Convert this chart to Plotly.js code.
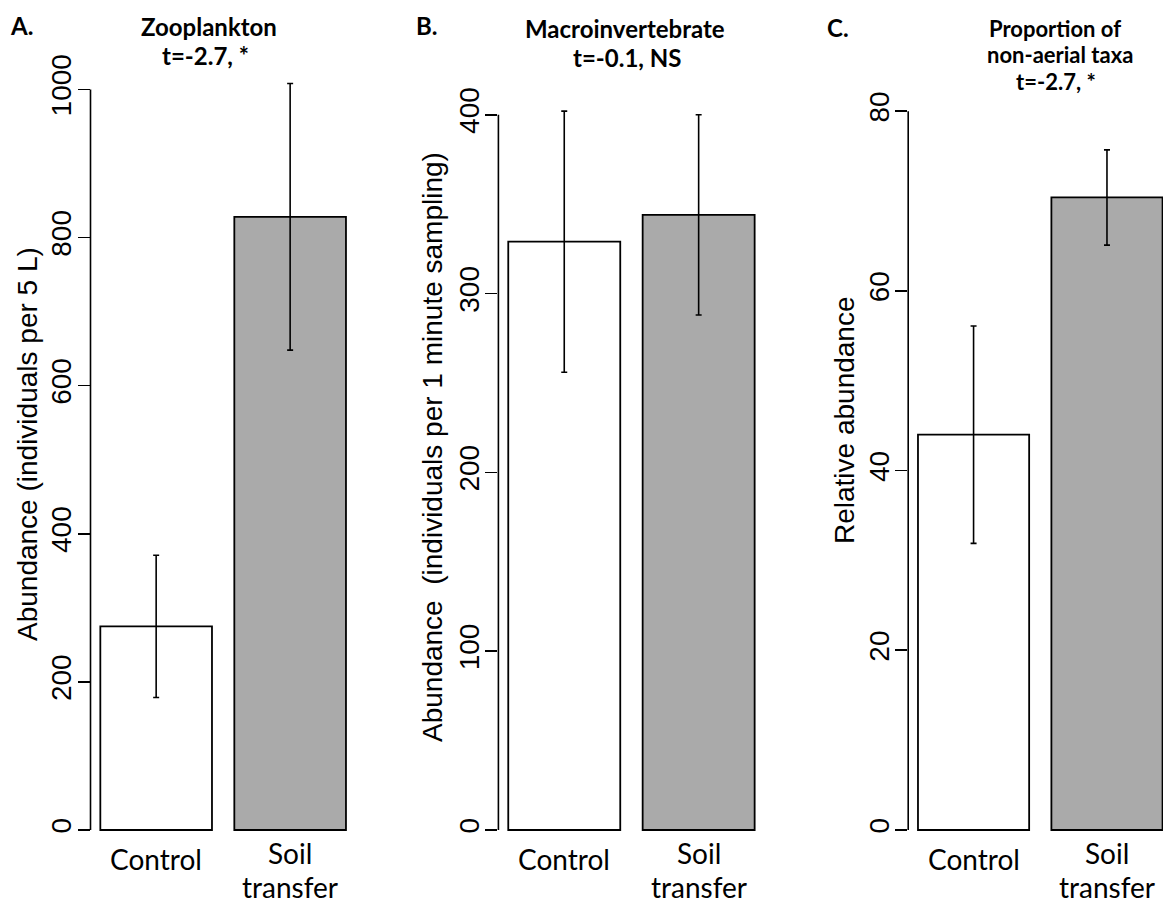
<!DOCTYPE html>
<html>
<head>
<meta charset="utf-8">
<script src="https://cdn.plot.ly/plotly-3.0.1.min.js"></script>
<style>html,body{margin:0;padding:0;background:#fff;}#chart{width:1163px;height:904px;}</style>
</head>
<body>
<div id="chart"></div>
<script>
// ---- data ----
const categories = ['Control', 'Soil transfer'];
const barColors = ['#ffffff', '#aaaaaa'];

const zooMean = [275, 828];
const zooSE = [96, 180];

const macroMean = [329, 344];
const macroSE = [73, 56];

const propMean = [44, 70.4];
const propSE = [12.1, 5.3];

const panelLetters = ['A.', 'B.', 'C.'];
const panelTitles = [
  ['Zooplankton', 't=-2.7, *'],
  ['Macroinvertebrate', 't=-0.1, NS'],
  ['Proportion of', 'non-aerial taxa', 't=-2.7, *']
];
const yTitles = [
  'Abundance (individuals per 5 L)',
  'Abundance  (individuals per 1 minute sampling)',
  'Relative abundance'
];
const yTickMax = [1000, 400, 80];
const yTickStep = [200, 100, 20];

// ---- layout helpers (pixel -> paper) ----
const W = 1163, H = 904;
const px = v => v / W;
const py = v => 1 - v / H;

const means = [zooMean, macroMean, propMean];
const ses = [zooSE, macroSE, propSE];

const xDom = [[90.5, 355.8], [498.4, 764.5], [908.2, 1163]];
const xRng = [[-0.49, 1.49], [-0.49, 1.49], [-0.49, 1.42]];
const yRng = [[-13.5, 1039.8], [-5.59, 430.6], [-1.113, 85.70]];
const yDom = [py(840), py(60)];

const tickFont = {family: 'Liberation Sans, Arial, sans-serif', size: 28, color: '#000'};
const catFont = {family: 'Lato, sans-serif', size: 28, color: '#000'};
const titleSize = [24, 24, 22];

const traces = [];
const layout = {
  width: W, height: H,
  margin: {l: 0, r: 0, t: 0, b: 0},
  paper_bgcolor: '#fff', plot_bgcolor: 'rgba(0,0,0,0)',
  showlegend: false,
  bargap: 1 - 1 / 1.2,
  annotations: [],
  shapes: []
};

for (let i = 0; i < 3; i++) {
  const s = i === 0 ? '' : String(i + 1);
  traces.push({
    type: 'bar',
    x: categories,
    y: means[i],
    xaxis: 'x' + s, yaxis: 'y' + s,
    marker: {color: barColors, line: {color: '#000', width: 1.8}},
    error_y: {type: 'data', array: ses[i], visible: true, color: '#000', thickness: 1.6, width: 3},
    hoverinfo: 'skip'
  });
  layout['xaxis' + s] = {
    domain: [px(xDom[i][0]), px(xDom[i][1])],
    range: xRng[i], type: 'category',
    showticklabels: false, showline: false, showgrid: false, zeroline: false, ticks: '',
    anchor: 'y' + s, fixedrange: true
  };
  layout['yaxis' + s] = {
    domain: yDom, range: yRng[i], anchor: 'x' + s,
    tick0: 0, dtick: yTickStep[i],
    ticks: 'outside', ticklen: 12, tickwidth: 1.6, tickcolor: '#000',
    tickangle: -90, tickfont: tickFont, ticklabelstandoff: -5,
    showline: false, showgrid: false, zeroline: false, fixedrange: true
  };
  // axis line only from 0 to last tick (R style)
  layout.shapes.push({
    type: 'line', xref: 'x' + s + ' domain', yref: 'y' + s,
    x0: 0, x1: 0, y0: 0, y1: yTickMax[i],
    line: {color: '#000', width: 1.6}
  });
  // category labels (one word per line)
  categories.forEach((c, j) => {
    const words = c.split(' ');
    const baselines = words.length === 1 ? [869] : [863, 897];
    words.forEach((w, k) => {
      layout.annotations.push({
        xref: 'x' + s, yref: 'paper', x: c, y: py(baselines[k] - 10.5),
        text: w, showarrow: false, font: catFont, xanchor: 'center', yanchor: 'middle'
      });
    });
  });
}

// titles: [center x, baseline y] per line
const titlePos = [
  [[209, 36], [205, 65]],
  [[624.5, 38], [626.7, 67]],
  [[1055, 37], [1059.5, 63.5], [1056, 90]]
];
const letterPos = [[21.5, 35], [427, 35], [838, 37]];
for (let i = 0; i < 3; i++) {
  const f = {family: 'Lato, sans-serif', size: titleSize[i], color: '#000', weight: 'bold'};
  panelTitles[i].forEach((t, k) => {
    layout.annotations.push({
      xref: 'paper', yref: 'paper', x: px(titlePos[i][k][0]),
      y: py(titlePos[i][k][1] - 0.387 * titleSize[i]),
      text: t, showarrow: false, font: f, xanchor: 'center', yanchor: 'middle'
    });
  });
  layout.annotations.push({
    xref: 'paper', yref: 'paper', x: px(letterPos[i][0]), y: py(letterPos[i][1] - 9.3),
    text: panelLetters[i], showarrow: false,
    font: {family: 'Lato, sans-serif', size: 24, color: '#000', weight: 'bold'},
    xanchor: 'center', yanchor: 'middle'
  });
}

// y-axis titles
const yTitlePos = [[27, 444], [432, 447], [845, 420]];
for (let i = 0; i < 3; i++) {
  layout.annotations.push({
    xref: 'paper', yref: 'paper', x: px(yTitlePos[i][0]), y: py(yTitlePos[i][1]),
    text: yTitles[i], showarrow: false, textangle: -90, font: tickFont,
    xanchor: 'center', yanchor: 'middle'
  });
}

Plotly.newPlot('chart', traces, layout, {displayModeBar: false, staticPlot: true});
</script>
</body>
</html>
